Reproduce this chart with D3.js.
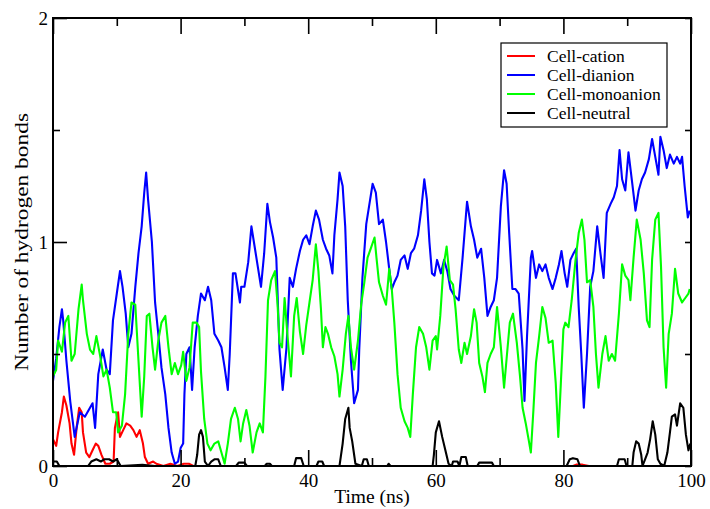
<!DOCTYPE html>
<html>
<head>
<meta charset="utf-8">
<script src="https://cdn.jsdelivr.net/npm/d3@7/dist/d3.min.js"></script>
<style>
  html, body { margin: 0; padding: 0; background: #fff; }
  svg { display: block; }
  text { font-family: "Liberation Serif", "Times New Roman", serif; fill: #000; }
</style>
</head>
<body>
<svg id="chart" width="710" height="509"></svg>
<script>
// ---- data: [time (ns), number of hydrogen bonds] ----
const seriesNames = ["Cell-cation", "Cell-dianion", "Cell-monoanion", "Cell-neutral"];
const seriesColors = ["#ff0000", "#0000ff", "#00ff00", "#000000"];

const xTicksMajor = [0, 20, 40, 60, 80, 100];
const xTicksMinor = [10, 30, 50, 70, 90];
const yTicksMajor = [0, 1, 2];
const yTicksMinor = [0.5, 1.5];

const cation = [[0,0.12],[0.5,0.09],[0.8,0.15],[1.4,0.24],[1.7,0.31],[2.1,0.27],[2.6,0.19],[2.9,0.10],[3.3,0.05],[3.7,0.17],[4.1,0.26],[4.5,0.24],[4.7,0.15],[5.2,0.06],[5.7,0.04],[6.2,0.07],[6.7,0.10],[7.1,0.09],[7.6,0.05],[8.2,0.01],[8.9,0.01],[9.5,0.02],[9.7,0.17],[10.2,0.24],[10.5,0.13],[11.0,0.16],[11.5,0.19],[12.1,0.18],[12.6,0.16],[13.1,0.13],[13.6,0.16],[14.1,0.10],[14.4,0.04],[14.9,0.01],[15.7,0.02],[16.2,0.01],[17.3,0.0],[18.4,0.01],[19.5,0.0],[20.5,0.01],[21.3,0.01],[22.0,0.0],[40,0.0],[60,0.0],[81.5,0.0],[82.0,0.006],[83.0,0.006],[84.0,0.0],[100,0.0]];

const dianion = [[0,0.38],[0.5,0.48],[1.0,0.62],[1.4,0.70],[1.6,0.65],[2.1,0.47],[2.7,0.29],[3.4,0.13],[4.2,0.24],[5.0,0.22],[5.8,0.26],[6.2,0.28],[6.6,0.17],[7.1,0.41],[7.8,0.52],[8.4,0.43],[8.9,0.41],[9.4,0.65],[10.0,0.77],[10.5,0.87],[10.9,0.80],[11.4,0.68],[11.8,0.53],[12.3,0.59],[12.9,0.80],[13.4,0.95],[13.9,1.07],[14.3,1.22],[14.6,1.31],[14.9,1.19],[15.5,1.00],[16.0,0.73],[16.5,0.59],[17.0,0.44],[17.6,0.32],[18.1,0.17],[18.6,0.06],[19.1,0.01],[19.6,0.02],[20.0,0.08],[20.4,0.10],[20.6,0.32],[20.9,0.50],[21.4,0.53],[21.8,0.34],[22.2,0.53],[22.7,0.67],[23.2,0.77],[23.8,0.74],[24.3,0.80],[24.8,0.74],[25.3,0.59],[25.9,0.56],[26.4,0.53],[26.9,0.44],[27.4,0.34],[27.7,0.50],[28.2,0.86],[28.6,0.86],[29.3,0.73],[29.5,0.80],[30.0,0.80],[30.6,0.91],[31.1,1.07],[31.6,0.98],[32.1,0.89],[32.6,0.80],[33.1,0.95],[33.6,1.17],[34.0,1.09],[34.5,1.02],[35.0,0.93],[35.5,0.52],[36.0,0.34],[36.6,0.53],[37.1,0.84],[37.6,0.80],[38.1,0.88],[38.7,0.96],[39.2,1.01],[39.7,1.03],[40.2,0.99],[40.7,1.07],[41.2,1.14],[41.7,1.10],[42.3,1.01],[42.8,0.97],[43.3,0.94],[43.8,0.86],[44.1,1.03],[44.6,1.19],[44.9,1.31],[45.4,1.25],[45.8,1.07],[46.2,0.74],[46.7,0.47],[47.2,0.28],[47.8,0.34],[48.0,0.52],[48.5,0.84],[49.1,1.08],[49.6,1.17],[50.1,1.26],[50.6,1.22],[51.1,1.08],[51.7,1.10],[52.2,1.00],[52.7,0.88],[53.1,0.79],[53.5,0.82],[54.0,0.85],[54.5,0.92],[55.1,0.94],[55.6,0.88],[56.1,0.95],[56.6,0.97],[57.2,1.03],[57.7,1.14],[58.2,1.28],[58.6,1.19],[59.0,1.00],[59.4,0.86],[59.8,0.85],[60.2,0.92],[60.8,0.86],[61.3,0.92],[61.8,0.87],[62.3,0.79],[62.9,0.76],[63.6,0.74],[64.2,0.93],[64.7,1.11],[64.9,1.18],[65.5,1.07],[66.0,1.01],[66.5,0.93],[67.1,0.97],[67.6,0.84],[68.1,0.67],[68.6,0.71],[69.1,0.74],[69.6,0.84],[70.2,1.16],[70.7,1.32],[71.1,1.26],[71.5,1.04],[72.0,0.79],[72.5,0.79],[73.0,0.77],[73.6,0.52],[73.9,0.29],[74.3,0.58],[74.9,0.93],[75.1,0.96],[75.7,0.84],[76.2,0.90],[76.7,0.87],[77.2,0.90],[77.7,0.84],[78.3,0.79],[78.8,0.84],[79.3,0.90],[79.7,0.96],[80.2,0.86],[80.6,0.80],[81.1,0.92],[81.6,0.95],[82.0,0.97],[82.4,0.71],[82.8,0.50],[83.2,0.26],[83.7,0.50],[84.2,0.80],[84.7,0.87],[85.3,1.07],[85.8,0.95],[86.3,0.84],[86.8,1.13],[87.4,1.17],[87.9,1.20],[88.4,1.25],[88.8,1.41],[89.2,1.28],[89.7,1.23],[90.2,1.40],[90.8,1.26],[91.3,1.14],[91.8,1.23],[92.3,1.28],[92.8,1.31],[93.4,1.37],[93.9,1.46],[94.4,1.38],[94.9,1.30],[95.2,1.47],[95.7,1.41],[96.2,1.33],[96.7,1.39],[97.3,1.35],[97.8,1.38],[98.3,1.35],[98.6,1.38],[99.0,1.25],[99.5,1.11],[99.8,1.14]];

const monoanion = [[0,0.40],[0.5,0.43],[0.8,0.56],[1.4,0.51],[1.9,0.64],[2.4,0.67],[2.9,0.47],[3.4,0.50],[4.0,0.70],[4.5,0.81],[4.7,0.74],[5.3,0.59],[5.8,0.52],[6.3,0.50],[6.8,0.58],[7.4,0.49],[7.9,0.40],[8.4,0.43],[8.9,0.35],[9.4,0.24],[9.9,0.24],[10.2,0.15],[10.8,0.18],[11.3,0.32],[11.8,0.59],[12.3,0.73],[12.9,0.72],[13.4,0.47],[13.9,0.22],[14.3,0.40],[14.7,0.67],[15.1,0.68],[15.6,0.53],[16.0,0.43],[16.5,0.56],[17.0,0.64],[17.6,0.67],[18.1,0.53],[18.6,0.41],[19.1,0.46],[19.6,0.41],[20.1,0.45],[20.4,0.51],[20.9,0.38],[21.4,0.44],[21.9,0.64],[22.5,0.64],[22.9,0.62],[23.2,0.42],[23.7,0.21],[24.2,0.10],[24.7,0.07],[25.3,0.10],[25.9,0.11],[26.4,0.06],[26.9,0.01],[27.4,0.10],[27.9,0.21],[28.5,0.26],[29.0,0.21],[29.4,0.11],[29.8,0.19],[30.3,0.25],[30.8,0.18],[31.3,0.06],[31.9,0.15],[32.4,0.19],[32.9,0.15],[33.3,0.40],[33.7,0.74],[34.2,0.83],[34.8,0.87],[35.2,0.72],[35.5,0.55],[35.9,0.53],[36.3,0.75],[36.7,0.60],[37.3,0.40],[37.8,0.67],[38.2,0.75],[38.7,0.60],[39.2,0.50],[39.7,0.63],[40.2,0.73],[40.7,0.83],[41.2,0.99],[41.6,0.87],[42.0,0.70],[42.3,0.53],[42.7,0.62],[43.1,0.59],[43.6,0.53],[44.1,0.49],[44.6,0.41],[44.9,0.31],[45.4,0.43],[45.9,0.59],[46.3,0.67],[46.7,0.53],[47.2,0.43],[47.8,0.56],[48.3,0.72],[48.8,0.82],[49.3,0.93],[49.8,0.97],[50.4,1.02],[50.7,0.93],[51.1,0.82],[51.7,0.76],[52.2,0.72],[52.7,0.88],[53.1,0.79],[53.5,0.64],[54.0,0.41],[54.5,0.26],[55.1,0.20],[55.6,0.17],[56.0,0.13],[56.4,0.32],[56.9,0.53],[57.4,0.62],[58.0,0.59],[58.5,0.53],[59.0,0.43],[59.5,0.56],[60.0,0.58],[60.2,0.52],[60.7,0.67],[61.2,0.89],[61.7,0.98],[62.2,0.83],[62.7,0.81],[63.1,0.70],[63.6,0.52],[64.0,0.46],[64.5,0.55],[64.9,0.50],[65.5,0.58],[66.0,0.70],[66.4,0.64],[66.8,0.46],[67.3,0.40],[67.7,0.33],[68.1,0.46],[68.6,0.50],[69.1,0.53],[69.6,0.71],[70.2,0.53],[70.7,0.35],[71.1,0.48],[71.6,0.64],[72.1,0.68],[72.7,0.55],[73.2,0.40],[73.6,0.26],[74.1,0.19],[74.6,0.11],[74.9,0.06],[75.3,0.25],[75.7,0.46],[76.2,0.58],[76.7,0.71],[77.2,0.66],[77.7,0.55],[78.3,0.56],[78.8,0.37],[79.2,0.13],[79.6,0.37],[80.0,0.61],[80.3,0.64],[80.8,0.62],[81.3,0.74],[81.9,0.92],[82.4,1.04],[82.9,1.10],[83.3,1.01],[83.7,0.82],[84.2,0.83],[84.7,0.71],[85.1,0.50],[85.5,0.35],[86.1,0.50],[86.6,0.58],[87.1,0.47],[87.6,0.50],[88.1,0.47],[88.7,0.68],[89.2,0.90],[89.7,0.85],[90.2,0.83],[90.5,0.74],[91.0,0.93],[91.5,1.10],[92.1,1.01],[92.6,0.86],[93.1,0.65],[93.5,0.62],[93.9,0.92],[94.4,1.10],[94.9,1.13],[95.3,0.89],[95.7,0.53],[96.1,0.35],[96.5,0.59],[97.0,0.68],[97.5,0.88],[98.0,0.77],[98.6,0.73],[99.1,0.75],[99.6,0.77],[99.8,0.79]];

const neutral = [[0,0.02],[0.6,0.02],[1.0,0.0],[5.5,0.0],[6.0,0.02],[6.8,0.03],[7.5,0.02],[8.0,0.03],[8.8,0.03],[9.4,0.02],[10.0,0.03],[10.6,0.0],[14,0.005],[16,0.0],[22.3,0.0],[22.6,0.05],[22.9,0.14],[23.2,0.16],[23.5,0.13],[23.8,0.02],[24.3,0.0],[24.8,0.02],[25.3,0.03],[25.9,0.03],[26.3,0.0],[28.7,0.0],[29.1,0.015],[30.0,0.015],[30.4,0.0],[33.2,0.0],[33.5,0.01],[34.0,0.01],[34.3,0.0],[37.8,0.0],[38.1,0.035],[38.9,0.035],[39.3,0.0],[41.3,0.0],[41.6,0.02],[42.2,0.02],[42.5,0.0],[44.9,0.0],[45.1,0.04],[45.4,0.10],[45.8,0.21],[46.1,0.24],[46.3,0.26],[46.5,0.17],[46.9,0.11],[47.4,0.01],[48.4,0.0],[48.7,0.03],[49.2,0.03],[49.5,0.0],[52.4,0.0],[52.6,0.01],[52.9,0.0],[59.5,0.0],[59.7,0.05],[60.0,0.15],[60.5,0.20],[61.0,0.13],[61.5,0.07],[62.0,0.01],[62.5,0.0],[62.7,0.02],[63.4,0.02],[63.7,0.0],[64.0,0.04],[64.7,0.04],[65.0,0.0],[66.5,0.0],[66.8,0.015],[68.8,0.015],[69.1,0.0],[80.5,0.0],[81.0,0.03],[81.5,0.035],[82.2,0.03],[82.6,0.0],[88.4,0.0],[88.7,0.03],[89.6,0.03],[89.9,0.0],[90.8,0.0],[91.0,0.06],[91.4,0.11],[91.8,0.10],[92.2,0.05],[92.4,0.0],[92.8,0.03],[93.2,0.06],[93.6,0.12],[94.0,0.20],[94.4,0.14],[94.8,0.03],[95.2,0.01],[95.8,0.0],[96.3,0.06],[96.7,0.15],[97.0,0.22],[97.5,0.23],[97.8,0.18],[98.3,0.28],[98.8,0.26],[99.2,0.14],[99.6,0.07],[99.9,0.10]];

const allSeries = [cation, dianion, monoanion, neutral];

// ---- layout ----
const svg = d3.select("#chart");
const L = 53, R = 691, T = 18, B = 466;
const x = d3.scaleLinear().domain([0, 100]).range([L, R]);
const y = d3.scaleLinear().domain([0, 2]).range([B, T]);

const line = d3.line().x(d => x(d[0])).y(d => y(d[1]));

// data lines
svg.append("g").selectAll("path")
  .data(allSeries)
  .join("path")
  .attr("d", line)
  .attr("fill", "none")
  .attr("stroke", (d, i) => seriesColors[i])
  .attr("stroke-width", 2.1)
  .attr("stroke-linejoin", "round");

// axes (ticks pointing inward)
function styleAxis(g) {
  g.select(".domain").remove();
  g.selectAll(".tick line").attr("stroke", "#000").attr("stroke-width", 1.6);
  g.selectAll(".tick text").style("font-family", '"Liberation Serif", serif').style("font-size", "19px").attr("fill", "#000");
}
svg.append("g").attr("transform", `translate(0,${B})`)
  .call(d3.axisBottom(x).tickValues(xTicksMajor).tickFormat(d3.format("d")).tickSize(-16).tickPadding(8))
  .call(styleAxis);
svg.append("g").attr("transform", `translate(0,${B})`)
  .call(d3.axisBottom(x).tickValues(xTicksMinor).tickFormat("").tickSize(-8))
  .call(styleAxis);
svg.append("g").attr("transform", `translate(0,${T})`)
  .call(d3.axisTop(x).tickValues(xTicksMajor).tickFormat("").tickSize(-16))
  .call(styleAxis);
svg.append("g").attr("transform", `translate(0,${T})`)
  .call(d3.axisTop(x).tickValues(xTicksMinor).tickFormat("").tickSize(-8))
  .call(styleAxis);
svg.append("g").attr("transform", `translate(${L},0)`)
  .call(d3.axisLeft(y).tickValues(yTicksMajor).tickFormat(d3.format("d")).tickSize(-14).tickPadding(5))
  .call(styleAxis);
svg.append("g").attr("transform", `translate(${L},0)`)
  .call(d3.axisLeft(y).tickValues(yTicksMinor).tickFormat("").tickSize(-7))
  .call(styleAxis);
svg.append("g").attr("transform", `translate(${R},0)`)
  .call(d3.axisRight(y).tickValues(yTicksMajor.concat(yTicksMinor)).tickFormat("").tickSize(-6))
  .call(styleAxis);

// frame
svg.append("rect")
  .attr("x", L).attr("y", T).attr("width", R - L).attr("height", B - T)
  .attr("fill", "none").attr("stroke", "#000").attr("stroke-width", 2);

// axis titles
svg.append("text")
  .attr("x", (L + R) / 2).attr("y", 503)
  .attr("text-anchor", "middle")
  .style("font-size", "19.5px")
  .text("Time (ns)");
svg.append("text")
  .attr("transform", "translate(28,242) rotate(-90)")
  .attr("text-anchor", "middle")
  .attr("textLength", 258)
  .attr("lengthAdjust", "spacingAndGlyphs")
  .style("font-size", "19px")
  .text("Number of hydrogen bonds");

// legend
const lg = svg.append("g");
lg.append("rect")
  .attr("x", 501).attr("y", 43).attr("width", 166).attr("height", 84)
  .attr("fill", "#fff").attr("stroke", "#000").attr("stroke-width", 1.2);
const rows = lg.selectAll("g.row").data(seriesNames).join("g")
  .attr("class", "row")
  .attr("transform", (d, i) => `translate(0,${56 + i * 19})`);
rows.append("line")
  .attr("x1", 507).attr("x2", 535).attr("y1", 0).attr("y2", 0)
  .attr("stroke", (d, i) => seriesColors[i]).attr("stroke-width", 2);
rows.append("text")
  .attr("x", 547).attr("y", 0).attr("dy", "0.35em")
  .style("font-size", "17.5px")
  .text(d => d);
</script>
</body>
</html>
